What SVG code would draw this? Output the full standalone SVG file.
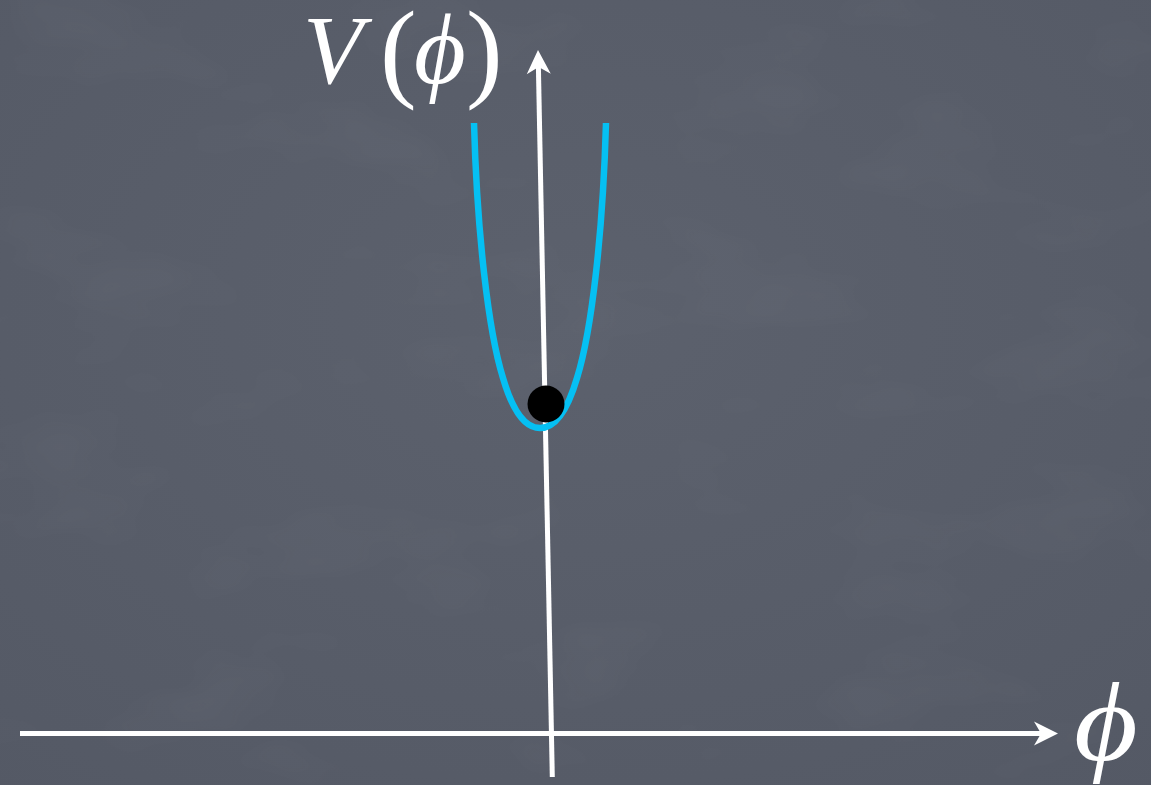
<svg xmlns="http://www.w3.org/2000/svg" width="1151" height="785" viewBox="0 0 1151 785">
  <style>
    .axis { stroke: #ffffff; stroke-width: 5; fill: none; }
    .head { fill: #ffffff; }
    .math { font-family: "Liberation Serif", "DejaVu Serif", serif; fill: #ffffff; }
    .it { font-style: italic; }
    .up { font-style: normal; }
  </style>
  <defs>
    <radialGradient id="bg" cx="0.5" cy="0.4" r="0.8">
      <stop offset="0" stop-color="#5c616d"/>
      <stop offset="1" stop-color="#545965"/>
    </radialGradient>
    <filter id="chalk" x="0" y="0" width="100%" height="100%">
      <feTurbulence type="fractalNoise" baseFrequency="0.006 0.012" numOctaves="3" seed="7"/>
      <feColorMatrix type="matrix" values="0 0 0 0 1  0 0 0 0 1  0 0 0 0 1  0 0 0.9 0 -0.45"/>
    </filter>
  </defs>
  <rect width="1151" height="785" fill="url(#bg)"/>
  <rect width="1151" height="785" filter="url(#chalk)" opacity="0.07"/>

  <g id="connectors">
    <g id="x-axis">
      <line class="axis" x1="20" y1="733.5" x2="1045" y2="733.5"/>
      <path class="head" d="M1058,733.5 L1034,721.5 L1041,733.5 L1034,745.5 Z"/>
    </g>
    <g id="y-axis">
      <line class="axis" x1="552.3" y1="777" x2="538.3" y2="62"/>
      <path class="head" d="M538,50 L526.3,74 L538.3,67 L550.3,74 Z" transform="rotate(-1.1 538 50)"/>
    </g>
  </g>

  <g id="potential">
    <path d="M474,123 C477,230 488,330 503,378 C513,412 525,428 540,428 C555,428 567,412 577,378 C592,330 603,230 606,123" fill="none" stroke="#05c0f3" stroke-width="6.5"/>
  </g>

  <g id="ball">
    <circle cx="546" cy="404" r="18.5" fill="#000000"/>
  </g>

  <g id="label-V">
    <text class="math" y="83" font-size="98"><tspan class="it" x="303">V</tspan><tspan class="up" x="380" y="87" font-size="110">(</tspan><tspan class="it" x="414" y="83" font-size="100">ϕ</tspan><tspan class="up" x="466" y="87" font-size="110">)</tspan></text>
  </g>

  <g id="label-phi">
    <text class="math it" transform="translate(1074 760) scale(1.1 1)" x="0" y="0" font-size="112">ϕ</text>
  </g>
</svg>
